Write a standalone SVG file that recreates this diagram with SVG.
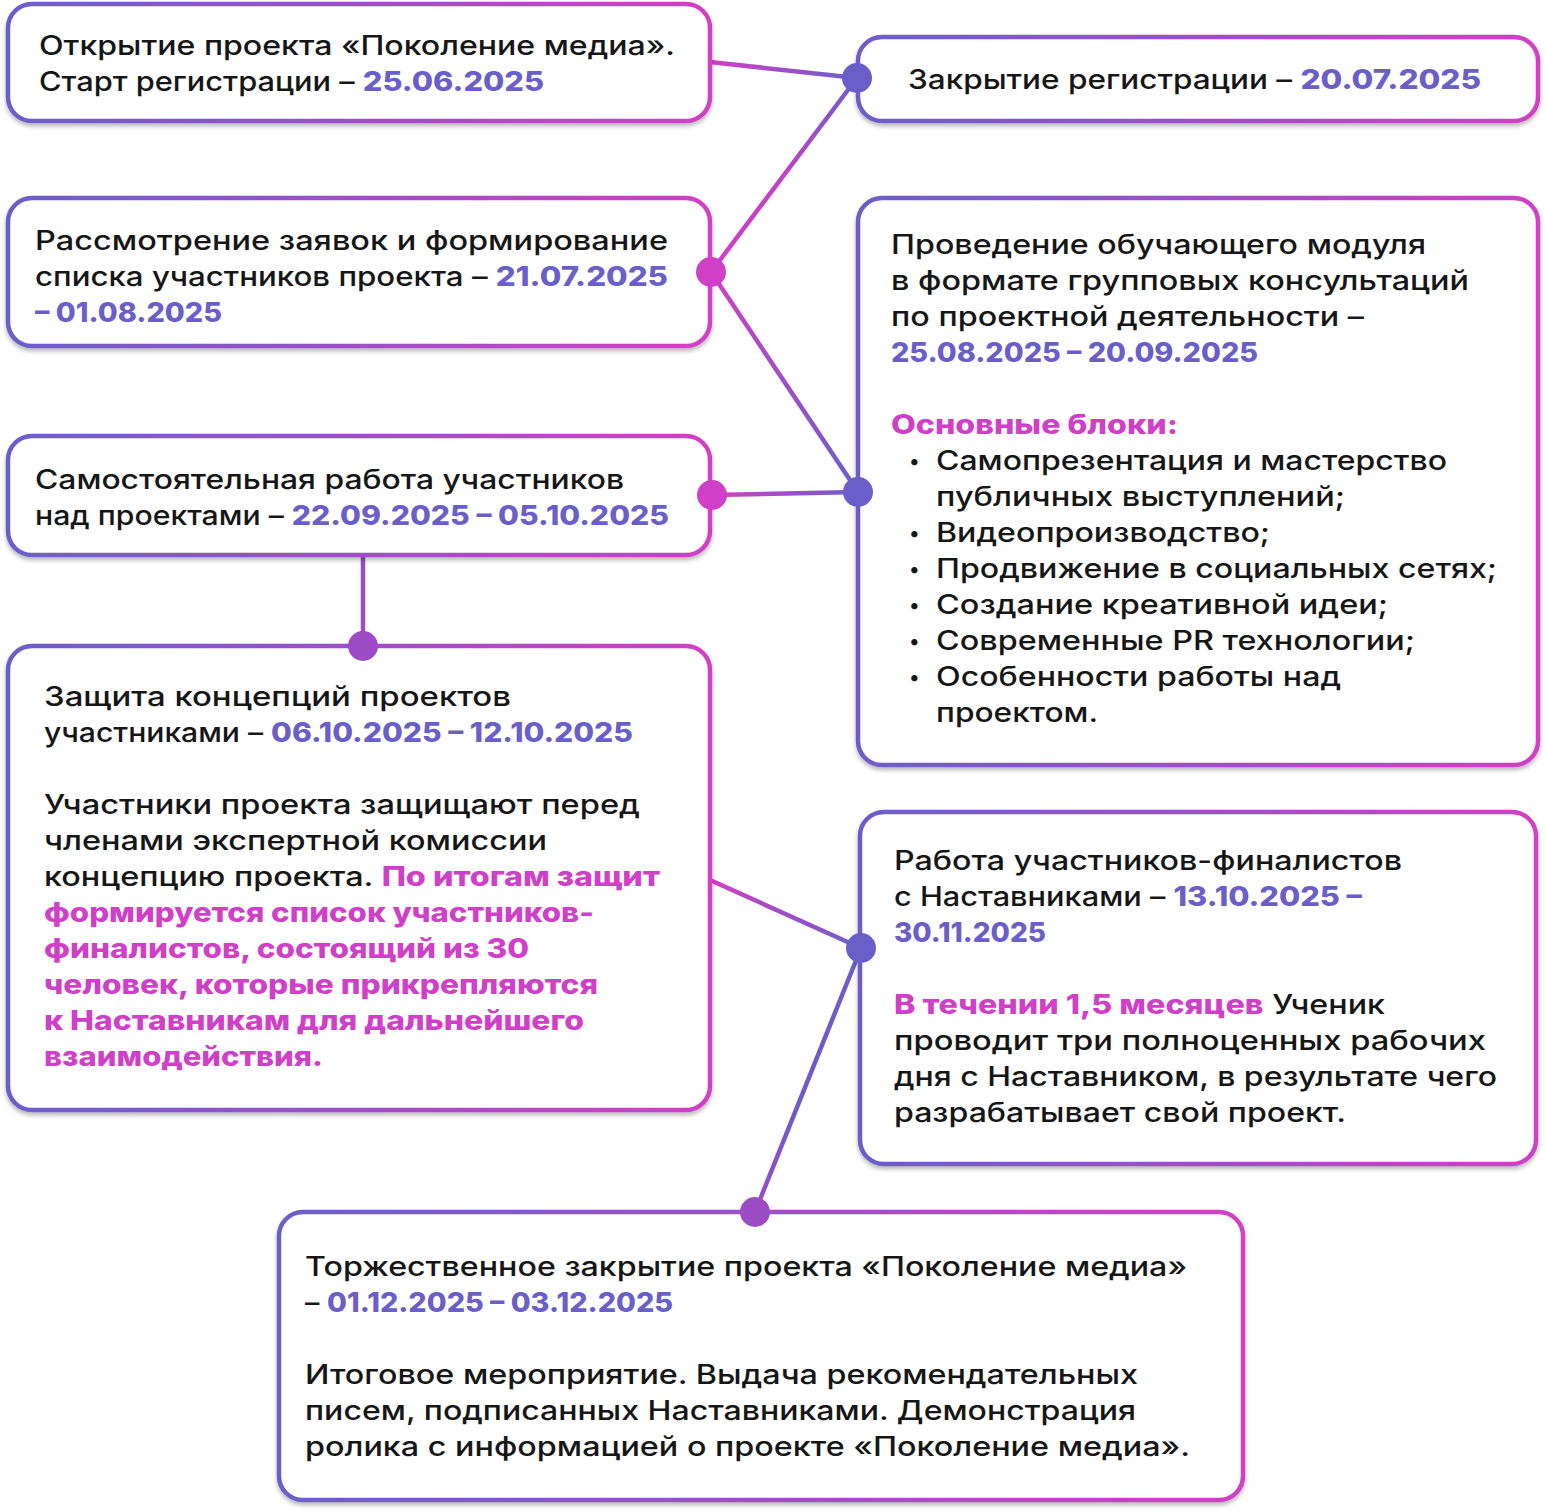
<svg xmlns="http://www.w3.org/2000/svg" width="1546" height="1510" viewBox="0 0 1546 1510">
<defs>
<linearGradient id="bg" x1="0" y1="0" x2="1" y2="0">
<stop offset="0" stop-color="#6a5fc9"/>
<stop offset="1" stop-color="#d23fc4"/>
</linearGradient>
<linearGradient id="l1" gradientUnits="userSpaceOnUse" x1="710" y1="62" x2="857" y2="78"><stop offset="0" stop-color="#d23fc4"/><stop offset="1" stop-color="#6a5fc9"/></linearGradient>
<linearGradient id="l2" gradientUnits="userSpaceOnUse" x1="857" y1="78" x2="711" y2="272"><stop offset="0" stop-color="#6a5fc9"/><stop offset="0.5" stop-color="#c042c6"/><stop offset="1" stop-color="#d23fc4"/></linearGradient>
<linearGradient id="l3" gradientUnits="userSpaceOnUse" x1="711" y1="272" x2="858" y2="492"><stop offset="0" stop-color="#d23fc4"/><stop offset="1" stop-color="#6a5fc9"/></linearGradient>
<linearGradient id="l4" gradientUnits="userSpaceOnUse" x1="712" y1="495" x2="858" y2="492"><stop offset="0" stop-color="#d23fc4"/><stop offset="1" stop-color="#6a5fc9"/></linearGradient>
<linearGradient id="l6" gradientUnits="userSpaceOnUse" x1="710" y1="880" x2="861" y2="948"><stop offset="0" stop-color="#d23fc4"/><stop offset="1" stop-color="#6a5fc9"/></linearGradient>
<linearGradient id="l7" gradientUnits="userSpaceOnUse" x1="861" y1="948" x2="755" y2="1212"><stop offset="0" stop-color="#6a5fc9"/><stop offset="0.6" stop-color="#7059c8"/><stop offset="1" stop-color="#9c4cc4"/></linearGradient>
<filter id="sh" x="-5%" y="-5%" width="110%" height="115%">
<feDropShadow dx="0" dy="3" stdDeviation="2" flood-color="#000" flood-opacity="0.28"/>
</filter>
<style>
.box{fill:#fff;stroke:url(#bg);stroke-width:4.5;filter:url(#sh)}
.t{font-family:Inter,"Noto Sans","DejaVu Sans",sans-serif;font-size:27px;font-weight:500;fill:#161616}
.d{font-weight:800;fill:#6a5fc9}
.m{font-weight:800;fill:#d03fc7}
.b{font-family:Inter,"Noto Sans","DejaVu Sans",sans-serif;font-size:20px;font-weight:500;fill:#161616}
.ln{fill:none;stroke-width:4.5}
</style>
</defs>

<g id="connectors">
<line class="ln" x1="710" y1="62" x2="857" y2="78" stroke="url(#l1)"/>
<line class="ln" x1="857" y1="78" x2="711" y2="272" stroke="url(#l2)"/>
<line class="ln" x1="711" y1="272" x2="858" y2="492" stroke="url(#l3)"/>
<line class="ln" x1="712" y1="495" x2="858" y2="492" stroke="url(#l4)"/>
<line class="ln" x1="363" y1="556" x2="363" y2="646" stroke="#9c4cc4"/>
<line class="ln" x1="710" y1="880" x2="861" y2="948" stroke="url(#l6)"/>
<line class="ln" x1="861" y1="948" x2="755" y2="1212" stroke="url(#l7)"/>
</g>

<g id="n1">
<rect class="box" x="8" y="4" width="702" height="117" rx="24"/>
<text class="t" x="39" y="55" textLength="636" lengthAdjust="spacingAndGlyphs">Открытие проекта «Поколение медиа».</text>
<text class="t" x="39" y="91" textLength="505" lengthAdjust="spacingAndGlyphs">Старт регистрации – <tspan class="d">25.06.2025</tspan></text>
</g>

<g id="n2">
<rect class="box" x="858" y="37" width="680" height="84" rx="24"/>
<text class="t" x="908" y="89" textLength="573" lengthAdjust="spacingAndGlyphs">Закрытие регистрации – <tspan class="d">20.07.2025</tspan></text>
</g>

<g id="n3">
<rect class="box" x="8" y="198" width="702" height="148" rx="24"/>
<text class="t" x="35" y="250" textLength="633" lengthAdjust="spacingAndGlyphs">Рассмотрение заявок и формирование</text>
<text class="t" x="35" y="286" textLength="633" lengthAdjust="spacingAndGlyphs">списка участников проекта – <tspan class="d">21.07.2025</tspan></text>
<text class="t d" x="35" y="322" textLength="187" lengthAdjust="spacingAndGlyphs">– 01.08.2025</text>
</g>

<g id="n4">
<rect class="box" x="858" y="198" width="680" height="567" rx="24"/>
<text class="t" x="891" y="254" textLength="535" lengthAdjust="spacingAndGlyphs">Проведение обучающего модуля</text>
<text class="t" x="891" y="290" textLength="578" lengthAdjust="spacingAndGlyphs">в формате групповых консультаций</text>
<text class="t" x="891" y="326" textLength="473" lengthAdjust="spacingAndGlyphs">по проектной деятельности –</text>
<text class="t d" x="891" y="362" textLength="367" lengthAdjust="spacingAndGlyphs">25.08.2025 – 20.09.2025</text>
<text class="t m" x="891" y="434" textLength="287" lengthAdjust="spacingAndGlyphs">Основные блоки:</text>
<text class="b" x="909" y="468">•</text>
<text class="t" x="936" y="470" textLength="511" lengthAdjust="spacingAndGlyphs">Самопрезентация и мастерство</text>
<text class="t" x="936" y="506" textLength="409" lengthAdjust="spacingAndGlyphs">публичных выступлений;</text>
<text class="b" x="909" y="540">•</text>
<text class="t" x="936" y="542" textLength="334" lengthAdjust="spacingAndGlyphs">Видеопроизводство;</text>
<text class="b" x="909" y="576">•</text>
<text class="t" x="936" y="578" textLength="561" lengthAdjust="spacingAndGlyphs">Продвижение в социальных сетях;</text>
<text class="b" x="909" y="612">•</text>
<text class="t" x="936" y="614" textLength="452" lengthAdjust="spacingAndGlyphs">Создание креативной идеи;</text>
<text class="b" x="909" y="648">•</text>
<text class="t" x="936" y="650" textLength="479" lengthAdjust="spacingAndGlyphs">Современные PR технологии;</text>
<text class="b" x="909" y="684">•</text>
<text class="t" x="936" y="686" textLength="405" lengthAdjust="spacingAndGlyphs">Особенности работы над</text>
<text class="t" x="936" y="722" textLength="162" lengthAdjust="spacingAndGlyphs">проектом.</text>
</g>

<g id="n5">
<rect class="box" x="8" y="436" width="702" height="119" rx="24"/>
<text class="t" x="35" y="489" textLength="589" lengthAdjust="spacingAndGlyphs">Самостоятельная работа участников</text>
<text class="t" x="35" y="525" textLength="634" lengthAdjust="spacingAndGlyphs">над проектами – <tspan class="d">22.09.2025 – 05.10.2025</tspan></text>
</g>

<g id="n6">
<rect class="box" x="8" y="646" width="702" height="464" rx="24"/>
<text class="t" x="44" y="706" textLength="467" lengthAdjust="spacingAndGlyphs">Защита концепций проектов</text>
<text class="t" x="44" y="742" textLength="589" lengthAdjust="spacingAndGlyphs">участниками – <tspan class="d">06.10.2025 – 12.10.2025</tspan></text>
<text class="t" x="44" y="814" textLength="596" lengthAdjust="spacingAndGlyphs">Участники проекта защищают перед</text>
<text class="t" x="44" y="850" textLength="503" lengthAdjust="spacingAndGlyphs">членами экспертной комиссии</text>
<text class="t" x="44" y="886" textLength="616" lengthAdjust="spacingAndGlyphs">концепцию проекта. <tspan class="m">По итогам защит</tspan></text>
<text class="t m" x="44" y="922" textLength="550" lengthAdjust="spacingAndGlyphs">формируется список участников-</text>
<text class="t m" x="44" y="958" textLength="485" lengthAdjust="spacingAndGlyphs">финалистов, состоящий из 30</text>
<text class="t m" x="44" y="994" textLength="554" lengthAdjust="spacingAndGlyphs">человек, которые прикрепляются</text>
<text class="t m" x="44" y="1030" textLength="540" lengthAdjust="spacingAndGlyphs">к Наставникам для дальнейшего</text>
<text class="t m" x="44" y="1066" textLength="279" lengthAdjust="spacingAndGlyphs">взаимодействия.</text>
</g>

<g id="n7">
<rect class="box" x="860" y="812" width="676" height="352" rx="24"/>
<text class="t" x="894" y="870" textLength="508" lengthAdjust="spacingAndGlyphs">Работа участников-финалистов</text>
<text class="t" x="894" y="906" textLength="468" lengthAdjust="spacingAndGlyphs">с Наставниками – <tspan class="d">13.10.2025 –</tspan></text>
<text class="t d" x="894" y="942" textLength="152" lengthAdjust="spacingAndGlyphs">30.11.2025</text>
<text class="t" x="894" y="1014" textLength="491" lengthAdjust="spacingAndGlyphs"><tspan class="m">В течении 1,5 месяцев</tspan> Ученик</text>
<text class="t" x="894" y="1050" textLength="592" lengthAdjust="spacingAndGlyphs">проводит три полноценных рабочих</text>
<text class="t" x="894" y="1086" textLength="603" lengthAdjust="spacingAndGlyphs">дня с Наставником, в результате чего</text>
<text class="t" x="894" y="1122" textLength="452" lengthAdjust="spacingAndGlyphs">разрабатывает свой проект.</text>
</g>

<g id="n8">
<rect class="box" x="279" y="1212" width="964" height="288" rx="24"/>
<text class="t" x="305" y="1276" textLength="882" lengthAdjust="spacingAndGlyphs">Торжественное закрытие проекта «Поколение медиа»</text>
<text class="t" x="305" y="1312" textLength="368" lengthAdjust="spacingAndGlyphs">– <tspan class="d">01.12.2025 – 03.12.2025</tspan></text>
<text class="t" x="305" y="1384" textLength="833" lengthAdjust="spacingAndGlyphs">Итоговое мероприятие. Выдача рекомендательных</text>
<text class="t" x="305" y="1420" textLength="831" lengthAdjust="spacingAndGlyphs">писем, подписанных Наставниками. Демонстрация</text>
<text class="t" x="305" y="1456" textLength="885" lengthAdjust="spacingAndGlyphs">ролика с информацией о проекте «Поколение медиа».</text>
</g>

<g id="dots">
<circle cx="857" cy="78" r="15" fill="#6a5fc9"/>
<circle cx="711" cy="272" r="15" fill="#d03fc7"/>
<circle cx="858" cy="492" r="15" fill="#6a5fc9"/>
<circle cx="712" cy="495" r="15" fill="#d03fc7"/>
<circle cx="363" cy="646" r="15" fill="#9c4cc4"/>
<circle cx="861" cy="948" r="15" fill="#6a5fc9"/>
<circle cx="755" cy="1212" r="15" fill="#9c4cc4"/>
</g>
</svg>
